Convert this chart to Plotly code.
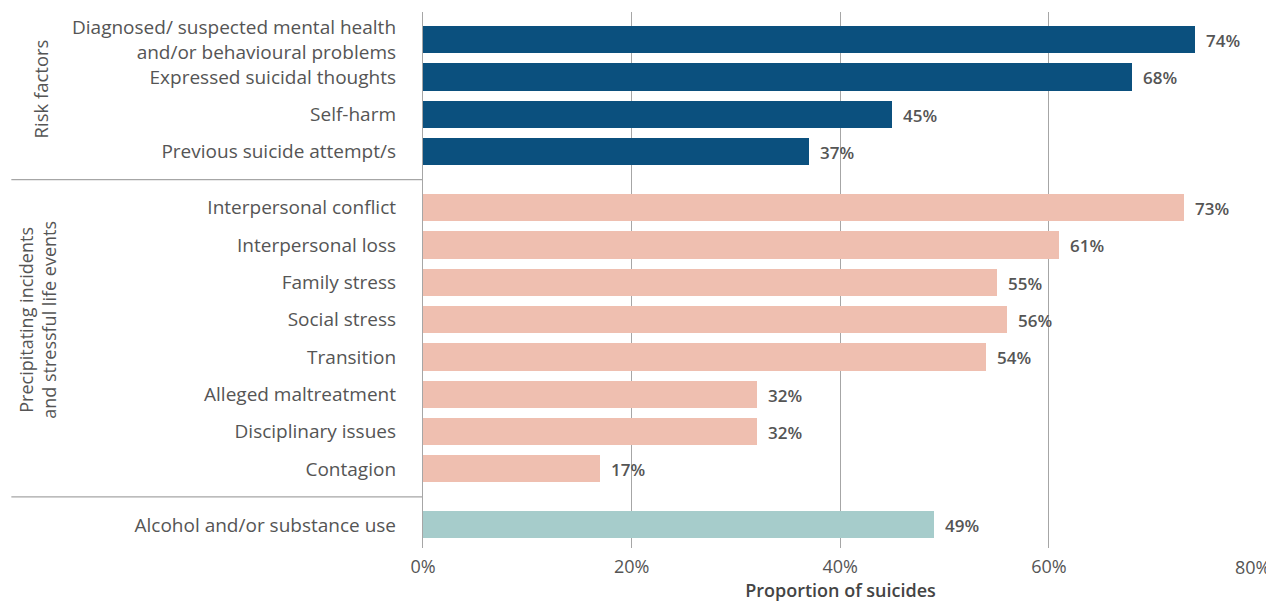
import plotly.graph_objects as go

categories = [
    "Diagnosed/ suspected mental health<br>and/or behavioural problems",
    "Expressed suicidal thoughts",
    "Self-harm",
    "Previous suicide attempt/s",
    "Interpersonal conflict",
    "Interpersonal loss",
    "Family stress",
    "Social stress",
    "Transition",
    "Alleged maltreatment",
    "Disciplinary issues",
    "Contagion",
    "Alcohol and/or substance use",
]
values = [74, 68, 45, 37, 73, 61, 55, 56, 54, 32, 32, 17, 49]
groups = ["risk"] * 4 + ["precip"] * 8 + ["alcohol"]
row_pos = [0, 1, 2, 3, 4.5, 5.5, 6.5, 7.5, 8.5, 9.5, 10.5, 11.5, 13]

group_colors = {"risk": "#0b507e", "precip": "#efbfb0", "alcohol": "#a6cccb"}
x_ticks = [0, 20, 40, 60, 80]
x_tick_text = ["0%", "20%", "40%", "60%", "80%"]

FONT = "Open Sans"
TXT = "#555555"
GRID = "#a6a6a6"

fig = go.Figure()
fig.add_trace(go.Bar(
    x=values, y=row_pos, orientation="h", width=0.73,
    marker=dict(color=[group_colors[g] for g in groups], line=dict(width=0)),
    hoverinfo="skip", showlegend=False,
))

for v, p in zip(values, row_pos):
    fig.add_annotation(x=v, y=p, text=f"{v}%", showarrow=False, xanchor="left",
                       xshift=9, yshift=-1,
                       font=dict(family=FONT, size=17, color=TXT, weight=600))

# last tick label drawn as an annotation nudged inward so it is not clipped
fig.add_annotation(x=x_ticks[-1], xref="x", yref="paper", y=0, text=x_tick_text[-1],
                   showarrow=False, xanchor="right", yanchor="top", xshift=15, yshift=-5,
                   font=dict(family=FONT, size=18, color=TXT))

# group separators
for ysep in [3.75, 12.25]:
    fig.add_shape(type="line", xref="paper", yref="y", x0=-0.493, x1=0, y0=ysep, y1=ysep,
                  line=dict(color=GRID, width=1.3))

fig.add_annotation(xref="paper", yref="y", x=-0.458, y=1.32, text="Risk factors",
                   textangle=-90, showarrow=False, xanchor="center", yanchor="middle",
                   font=dict(family=FONT, size=18.5, color=TXT))
fig.add_annotation(xref="paper", yref="y", x=-0.462, y=7.5,
                   text="Precipitating incidents<br>and stressful life events",
                   textangle=-90, showarrow=False, xanchor="center", yanchor="middle",
                   font=dict(family=FONT, size=18, color=TXT))

# page body has an 8px default margin; size the figure to fit the window
fig.update_layout(
    width=1266, height=595,
    margin=dict(l=415, r=16, t=4, b=55),
    plot_bgcolor="white", paper_bgcolor="white",
    font=dict(family=FONT, color=TXT),
    bargap=0,
)
fig.update_xaxes(
    range=[0, 80.05], tickvals=x_ticks, ticktext=x_tick_text[:-1] + [""],
    showgrid=True, gridcolor=GRID, gridwidth=1.3, zeroline=False,
    showline=False, tickfont=dict(family=FONT, size=18, color=TXT),
    ticklabeloverflow="allow", automargin=False, ticklabelstandoff=6,
    title=dict(text="Proportion of suicides", standoff=5,
               font=dict(family=FONT, size=18, color="#444444", weight=600)),
    fixedrange=True,
)
fig.update_yaxes(
    range=[13.62, -0.74], tickvals=row_pos, ticktext=categories,
    showgrid=False, zeroline=False, showline=True, linecolor=GRID, linewidth=1.3,
    ticklabelstandoff=22, tickfont=dict(family=FONT, size=19, color=TXT),
    automargin=False, fixedrange=True,
)

fig.write_html("out.html")
